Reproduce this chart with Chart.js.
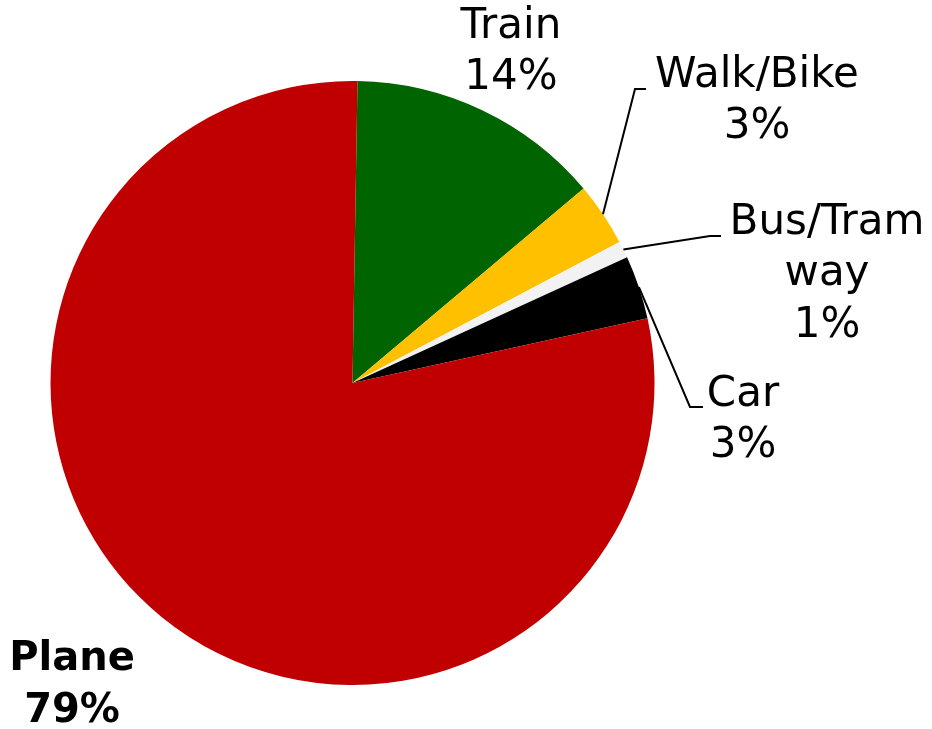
<!DOCTYPE html>
<html>
<head>
<meta charset="utf-8">
<script src="https://cdn.jsdelivr.net/npm/chart.js@4.4.1/dist/chart.umd.min.js"></script>
<style>
    html, body { margin: 0; padding: 0; background: #fff; }
    #wrap { width: 932px; height: 729px; }
</style>
</head>
<body>
<div id="wrap"><canvas id="mode-chart" width="932" height="729"></canvas></div>
<script>
// data
var categories = ['Train', 'Walk/Bike', 'Bus/Tramway', 'Car', 'Plane'];
var shares = [13.6, 3.4, 0.9, 3.4, 78.7];
var shareLabels = ['14%', '3%', '1%', '3%', '79%'];
var labelLines = [['Train'], ['Walk/Bike'], ['Bus/Tram', 'way'], ['Car'], ['Plane']];
var sliceColours = ['#006400', '#FFC000', '#F2F2F2', '#000000', '#C00000'];

// where each label block sits (centre x, first line centre y) and its leader elbow
var labelPlacement = [
    { x: 511, y: 27, bold: false, leader: null },
    { x: 757, y: 76, bold: false, leader: [[635, 89], [646, 89]] },
    { x: 827, y: 223, bold: false, leader: [[710, 236], [721, 236]] },
    { x: 743, y: 395, bold: false, leader: [[690, 407], [703, 407]] },
    { x: 72, y: 660, bold: true, leader: null }
];

var outsideLabels = {
    id: 'outsideLabels',
    afterDraw: function (chart) {
        var ctx = chart.ctx;
        var meta = chart.getDatasetMeta(0);
        ctx.save();
        $each(meta.data, function (i, arc) {
            var place = labelPlacement[i];
            if (place.leader) {
                var mid = (arc.startAngle + arc.endAngle) / 2;
                var sx = arc.x + Math.cos(mid) * arc.outerRadius;
                var sy = arc.y + Math.sin(mid) * arc.outerRadius;
                ctx.beginPath();
                ctx.moveTo(sx, sy);
                place.leader.forEach(function (p) { ctx.lineTo(p[0], p[1]); });
                ctx.strokeStyle = '#000';
                ctx.lineWidth = 2;
                ctx.stroke();
            }
            var lines = labelLines[i].concat([shareLabels[i]]);
            ctx.fillStyle = '#000';
            ctx.textAlign = 'center';
            ctx.textBaseline = 'middle';
            ctx.font = place.bold ? 'bold 40px "DejaVu Sans", Verdana, sans-serif'
                                  : '42px "DejaVu Sans", Verdana, sans-serif';
            lines.forEach(function (txt, j) {
                ctx.fillText(txt, place.x, place.y + j * 51.5);
            });
        });
        ctx.restore();
    }
};

function $each(list, fn) {
    for (var i = 0; i < list.length; i++) fn(i, list[i]);
}

var ModeChart = new Chart(document.getElementById('mode-chart'), {
    type: 'pie',
    data: {
        labels: categories,
        datasets: [{
            data: shares,
            backgroundColor: sliceColours,
            borderWidth: 0
        }]
    },
    plugins: [outsideLabels],
    options: {
        responsive: false,
        animation: false,
        rotation: 0.95,
        layout: {
            padding: { left: 50, top: 81, right: 277, bottom: 44 }
        },
        plugins: {
            legend: { display: false },
            tooltip: { enabled: false }
        }
    }
});
</script>
</body>
</html>
